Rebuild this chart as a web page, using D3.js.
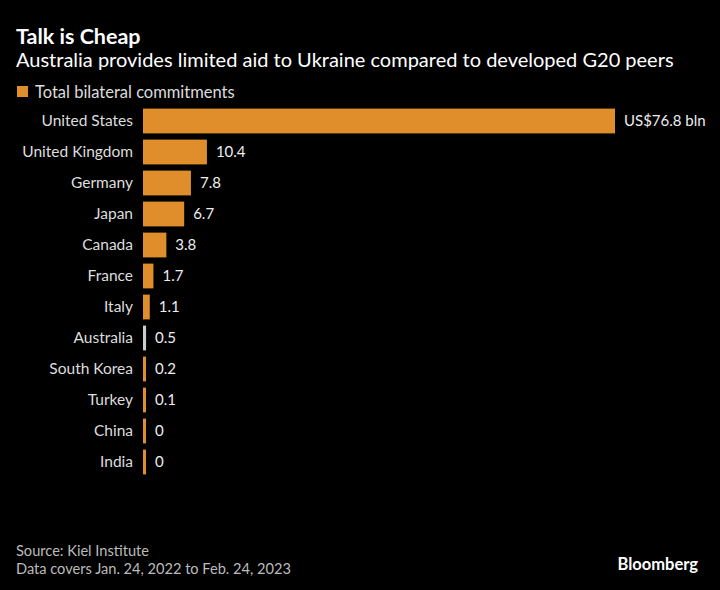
<!DOCTYPE html>
<html><head><meta charset="utf-8">
<script src="https://cdn.jsdelivr.net/npm/d3@7"></script>
<style>html,body{margin:0;padding:0;background:#000;}svg{display:block;}</style>
</head><body>
<svg id="c" width="720" height="590"></svg>
<script>
const countries = ["United States","United Kingdom","Germany","Japan","Canada","France","Italy","Australia","South Korea","Turkey","China","India"];
const values = [76.8,10.4,7.8,6.7,3.8,1.7,1.1,0.5,0.2,0.1,0,0];
const valueLabels = ["US$76.8 bln","10.4","7.8","6.7","3.8","1.7","1.1","0.5","0.2","0.1","0","0"];
const highlight = ["Australia"];

const FONT = "Lato, 'Open Sans', sans-serif";
const svg = d3.select("#c");
svg.append("rect").attr("width",720).attr("height",590).attr("fill","#000");

const x = d3.scaleLinear().domain([0,76.8]).range([143,615]);
const y = d3.scaleBand().domain(countries).range([105.5,477.5]).paddingInner(0.2).paddingOuter(0.1);

svg.append("text").attr("x",16).attr("y",44).text("Talk is Cheap")
  .attr("font-family",FONT).attr("font-weight",700).attr("font-size",21.5).attr("fill","#fff");
svg.append("text").attr("x",16).attr("y",67).text("Australia provides limited aid to Ukraine compared to developed G20 peers")
  .attr("font-family",FONT).attr("font-size",20).attr("fill","#fff");

svg.append("rect").attr("x",17).attr("y",86).attr("width",11).attr("height",11).attr("fill","#e08e2b");
svg.append("text").attr("x",35).attr("y",97.5).text("Total bilateral commitments")
  .attr("font-family",FONT).attr("font-size",16.5).attr("fill","#ddd");

const g = svg.append("g");
g.selectAll("rect.bar").data(countries).join("rect").attr("class","bar")
  .attr("x",x(0)).attr("y",d=>y(d)).attr("height",y.bandwidth())
  .attr("width",(d,i)=>Math.max(x(values[i])-x(0),3))
  .attr("fill",d=>highlight.includes(d)?"#cccccc":"#e08e2b");

g.selectAll("text.cat").data(countries).join("text").attr("class","cat")
  .attr("x",133).attr("y",d=>y(d)+y.bandwidth()/2).attr("dy","0.35em")
  .attr("text-anchor","end").text(d=>d)
  .attr("font-family",FONT).attr("font-size",15.5).attr("fill","#ddd");

g.selectAll("text.val").data(countries).join("text").attr("class","val")
  .attr("x",(d,i)=>x(0)+Math.max(x(values[i])-x(0),3)+9)
  .attr("y",d=>y(d)+y.bandwidth()/2).attr("dy","0.35em")
  .text((d,i)=>valueLabels[i])
  .attr("font-family",FONT).attr("font-size",15).attr("fill","#eee");

svg.append("text").attr("x",16).attr("y",556).text("Source: Kiel Institute")
  .attr("font-family",FONT).attr("font-size",14.6).attr("fill","#bbb");
svg.append("text").attr("x",16).attr("y",574).text("Data covers Jan. 24, 2022 to Feb. 24, 2023")
  .attr("font-family",FONT).attr("font-size",14.6).attr("fill","#bbb");
svg.append("text").attr("x",698).attr("y",570).attr("text-anchor","end").text("Bloomberg")
  .attr("font-family",FONT).attr("font-weight",700).attr("font-size",16.5).attr("fill","#fff");
</script>
</body></html>
